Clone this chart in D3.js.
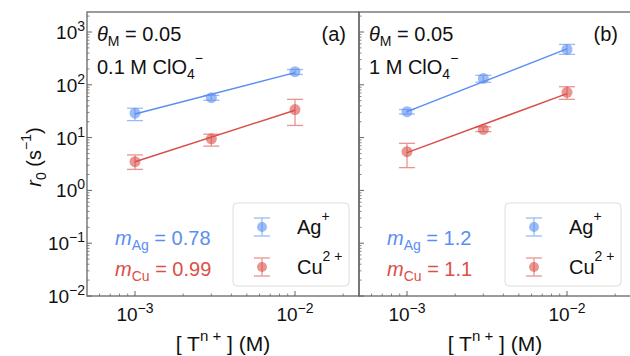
<!DOCTYPE html>
<html>
<head>
<meta charset="utf-8">
<script src="https://cdn.jsdelivr.net/npm/d3@7"></script>
<style>
  body { margin: 0; background: #fff; }
  text { font-family: "Liberation Sans", Arial, sans-serif; fill: #111; }
</style>
</head>
<body>
<div id="chart"></div>
<script>
// data
let concs = [1e-3, 3e-3, 1e-2]
let yTicks = [1e-2, 1e-1, 1e0, 1e1, 1e2, 1e3]
let xTicks = [1e-3, 1e-2]

// panel (a): 0.1 M ClO4-
let agA = [29, 57, 177], agAlo = [21, 51, 157], agAhi = [36, 63, 195]
let cuA = [3.5, 9.5, 34], cuAlo = [2.5, 6.9, 17], cuAhi = [4.7, 11.6, 53]
let fitAgA = [28, 170], fitCuA = [3.5, 33]
// panel (b): 1 M ClO4-
let agB = [31, 132, 468], agBlo = [28, 112, 377], agBhi = [34, 151, 582]
let cuB = [5.4, 14.3, 72], cuBlo = [2.7, 13, 53], cuBhi = [7.8, 16, 92]
let fitAgB = [31, 480], fitCuB = [5.2, 68]
let fitX = [1e-3, 1e-2]

let panels = [
  { tag: "(a)", conc: "0.1 M ClO", mAg: "0.78", mCu: "0.99",
    ag: agA, agLo: agAlo, agHi: agAhi, cu: cuA, cuLo: cuAlo, cuHi: cuAhi, fitAg: fitAgA, fitCu: fitCuA },
  { tag: "(b)", conc: "1 M ClO", mAg: "1.2", mCu: "1.1",
    ag: agB, agLo: agBlo, agHi: agBhi, cu: cuB, cuLo: cuBlo, cuHi: cuBhi, fitAg: fitAgB, fitCu: fitCuB }
]

let blue = "#5a8ef2", red = "#da4f48"
let w = 630, h = 356
let pTop = 12, pBottom = 296, pw = 272, left0 = 87

let svg = d3.select("#chart").append("svg").attr("width", w).attr("height", h)

let y = d3.scaleLog().domain([1e-2, Math.pow(10, 3.379)]).range([pBottom, pTop])

// minor tick values
let minors = (lo, hi) => {
  let out = []
  for (let e = lo; e <= hi; e++) for (let k = 2; k <= 9; k++) out.push(k * Math.pow(10, e))
  return out
}

let sup = (sel, base, exp, supSize) => {
  sel.append("tspan").text(base)
  sel.append("tspan").attr("dy", -8).attr("font-size", supSize).text(exp)
}

panels.forEach((p, i) => {
  let x0 = left0 + i * pw
  let x = d3.scaleLog().domain([Math.pow(10, -3.3), Math.pow(10, -1.6)]).range([x0, x0 + pw])
  let g = svg.append("g")

  // frame
  g.append("rect").attr("x", x0).attr("y", pTop).attr("width", pw).attr("height", pBottom - pTop)
    .attr("fill", "none").attr("stroke", "#666").attr("stroke-width", 1.3)

  // y ticks (inward)
  let yMin = minors(-2, 3).filter(v => y(v) >= pTop)
  g.selectAll(".ymin").data(yMin).join("line")
    .attr("x1", x0).attr("x2", x0 + 2.5).attr("y1", d => y(d)).attr("y2", d => y(d))
    .attr("stroke", "#666").attr("stroke-width", 0.8)
  g.selectAll(".ymaj").data(yTicks).join("line")
    .attr("x1", x0).attr("x2", x0 + 5).attr("y1", d => y(d)).attr("y2", d => y(d))
    .attr("stroke", "#666").attr("stroke-width", 1)

  // x ticks (inward)
  let xMin = minors(-4, -2).filter(v => x(v) > x0 && x(v) < x0 + pw)
  g.selectAll(".xmin").data(xMin).join("line")
    .attr("x1", d => x(d)).attr("x2", d => x(d)).attr("y1", pBottom).attr("y2", pBottom - 2.5)
    .attr("stroke", "#666").attr("stroke-width", 0.8)
  g.selectAll(".xmaj").data(xTicks).join("line")
    .attr("x1", d => x(d)).attr("x2", d => x(d)).attr("y1", pBottom).attr("y2", pBottom - 5)
    .attr("stroke", "#666").attr("stroke-width", 1)

  // x tick labels
  xTicks.forEach(t => {
    let tx = g.append("text").attr("x", x(t)).attr("y", 321).attr("text-anchor", "middle")
      .attr("font-size", 19)
    sup(tx, "10", "\u2212" + Math.round(-Math.log10(t)), 14)
  })

  // y tick labels on first panel only
  if (i === 0) {
    yTicks.forEach(t => {
      let e = Math.round(Math.log10(t))
      let ty = g.append("text").attr("x", 85).attr("y", y(t) + 7).attr("text-anchor", "end")
        .attr("font-size", 19)
      sup(ty, "10", (e < 0 ? "\u2212" : "") + Math.abs(e), 14)
    })
  }

  // x axis label
  let xl = g.append("text").attr("x", x0 + pw / 2).attr("y", 351).attr("text-anchor", "middle")
    .attr("font-size", 21)
  xl.append("tspan").text("[ T")
  xl.append("tspan").attr("dy", -10).attr("font-size", 15).text("n +")
  xl.append("tspan").attr("dy", 10).text(" ] (M)")

  // fit lines
  let line = d3.line().x(d => x(d[0])).y(d => y(d[1]))
  g.append("path").datum(fitX.map((c, k) => [c, p.fitAg[k]])).attr("d", line)
    .attr("stroke", blue).attr("stroke-width", 1.5).attr("fill", "none")
  g.append("path").datum(fitX.map((c, k) => [c, p.fitCu[k]])).attr("d", line)
    .attr("stroke", red).attr("stroke-width", 1.5).attr("fill", "none")

  // points with error bars
  let series = [
    { v: p.ag, lo: p.agLo, hi: p.agHi, c: blue },
    { v: p.cu, lo: p.cuLo, hi: p.cuHi, c: red }
  ]
  series.forEach(s => {
    let pts = concs.map((c, k) => ({ c: c, v: s.v[k], lo: s.lo[k], hi: s.hi[k] }))
    let eg = g.append("g").attr("stroke", s.c).attr("stroke-width", 1.3).attr("opacity", 0.6)
    eg.selectAll(".eb").data(pts).join("line")
      .attr("x1", d => x(d.c)).attr("x2", d => x(d.c)).attr("y1", d => y(d.lo)).attr("y2", d => y(d.hi))
    eg.selectAll(".cl").data(pts).join("line")
      .attr("x1", d => x(d.c) - 8).attr("x2", d => x(d.c) + 8).attr("y1", d => y(d.lo)).attr("y2", d => y(d.lo))
    eg.selectAll(".ch").data(pts).join("line")
      .attr("x1", d => x(d.c) - 8).attr("x2", d => x(d.c) + 8).attr("y1", d => y(d.hi)).attr("y2", d => y(d.hi))
    g.selectAll(null).data(pts).join("circle")
      .attr("cx", d => x(d.c)).attr("cy", d => y(d.v)).attr("r", 5.5)
      .attr("fill", s.c).attr("opacity", 0.6)
  })

  // annotations
  let t1 = g.append("text").attr("x", x0 + 10).attr("y", 41).attr("font-size", 20)
  t1.append("tspan").attr("font-style", "italic").text("\u03b8")
  t1.append("tspan").attr("dy", 5).attr("font-size", 14).text("M")
  t1.append("tspan").attr("dy", -5).text(" = 0.05")

  let t2 = g.append("text").attr("x", x0 + 10).attr("y", 74).attr("font-size", 20)
  t2.append("tspan").text(p.conc)
  t2.append("tspan").attr("dy", 5).attr("font-size", 14).text("4")
  t2.append("tspan").attr("dy", -16).attr("font-size", 14).text("\u2212")

  g.append("text").attr("x", x0 + pw - 13).attr("y", 41).attr("text-anchor", "end")
    .attr("font-size", 20).text(p.tag)

  let mA = g.append("text").attr("x", x0 + 28).attr("y", 245).attr("font-size", 20)
  mA.append("tspan").attr("font-style", "italic").attr("fill", blue).text("m")
  mA.append("tspan").attr("dy", 5).attr("font-size", 14).attr("fill", blue).text("Ag")
  mA.append("tspan").attr("dy", -5).attr("fill", blue).text(" = " + p.mAg)

  let mC = g.append("text").attr("x", x0 + 28).attr("y", 276).attr("font-size", 20)
  mC.append("tspan").attr("font-style", "italic").attr("fill", red).text("m")
  mC.append("tspan").attr("dy", 5).attr("font-size", 14).attr("fill", red).text("Cu")
  mC.append("tspan").attr("dy", -5).attr("fill", red).text(" = " + p.mCu)

  // legend
  let lx = x0 + 146, ly = 203
  g.append("rect").attr("x", lx).attr("y", ly).attr("width", 116).attr("height", 83).attr("rx", 4)
    .attr("fill", "#fff").attr("stroke", "#ddd").attr("stroke-width", 1)
  let leg = [{ c: blue, name: "Ag", sup: "+", yy: 227 }, { c: red, name: "Cu", sup: "2 +", yy: 267 }]
  leg.forEach(l => {
    let mx = lx + 29
    let lg = g.append("g").attr("stroke", l.c).attr("stroke-width", 1.3).attr("opacity", 0.6)
    lg.append("line").attr("x1", mx).attr("x2", mx).attr("y1", l.yy - 9).attr("y2", l.yy + 9)
    lg.append("line").attr("x1", mx - 8).attr("x2", mx + 8).attr("y1", l.yy - 9).attr("y2", l.yy - 9)
    lg.append("line").attr("x1", mx - 8).attr("x2", mx + 8).attr("y1", l.yy + 9).attr("y2", l.yy + 9)
    g.append("circle").attr("cx", mx).attr("cy", l.yy).attr("r", 5).attr("fill", l.c).attr("opacity", 0.6)
    let lt = g.append("text").attr("x", lx + 64).attr("y", l.yy + 7).attr("font-size", 20)
    lt.append("tspan").text(l.name)
    lt.append("tspan").attr("dy", -13).attr("font-size", 14).text(l.sup)
  })
})

// y axis label
let yl = svg.append("text").attr("transform", "translate(41,157) rotate(-90)")
  .attr("text-anchor", "middle").attr("font-size", 20)
yl.append("tspan").attr("font-style", "italic").text("r")
yl.append("tspan").attr("dy", 5).attr("font-size", 14).text("0")
yl.append("tspan").attr("dy", -5).text(" (s")
yl.append("tspan").attr("dy", -10).attr("font-size", 14).text("\u22121")
yl.append("tspan").attr("dy", 10).text(")")
</script>
</body>
</html>
